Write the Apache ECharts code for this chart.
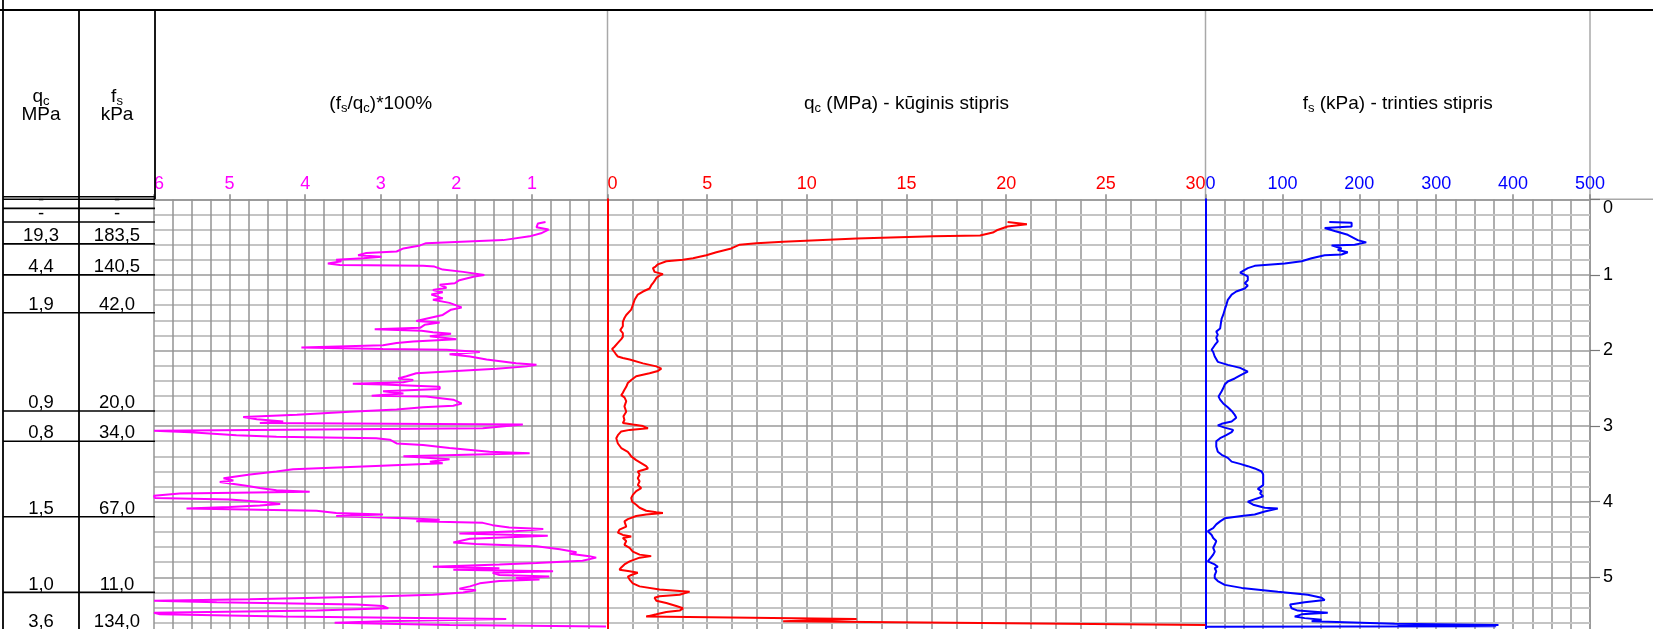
<!DOCTYPE html>
<html><head><meta charset="utf-8">
<script src="https://cdn.jsdelivr.net/npm/echarts@6/dist/echarts.min.js"></script>
<style>html,body{margin:0;padding:0;background:#fff}#c{width:1653px;height:629px}</style>
</head><body><div id="c"></div>
<script>
// ---------- DATA ----------
const depthTicks = [0, 1, 2, 3, 4, 5];
const ratioTicks = [0, 1, 2, 3, 4, 5, 6];
const qcTicks = [0, 5, 10, 15, 20, 25, 30];
const fsTicks = [0, 100, 200, 300, 400, 500];

// (fs/qc)*100% : [depth m, value %]
const ratioCurve = [
[0.30,0.82],[0.32,0.92],[0.37,0.94],[0.40,0.78],[0.45,0.88],[0.49,1.03],[0.54,1.38],[0.58,2.40],[0.61,2.48],[0.65,2.70],
[0.69,2.79],[0.71,3.19],[0.74,3.30],[0.76,2.99],[0.78,3.23],[0.80,3.59],[0.82,3.52],[0.85,3.70],[0.87,3.54],[0.88,2.44],
[0.89,2.29],[0.93,2.18],[0.96,1.91],[1.00,1.63],[1.02,1.76],[1.07,1.96],[1.11,2.02],[1.13,2.22],[1.17,2.13],[1.20,2.31],
[1.23,2.18],[1.26,2.33],[1.31,2.18],[1.33,2.31],[1.37,2.09],[1.43,1.93],[1.46,2.07],[1.53,2.18],[1.58,2.40],[1.61,2.53],
[1.63,2.22],[1.66,2.42],[1.70,2.48],[1.72,3.08],[1.74,2.46],[1.76,2.31],[1.78,2.07],[1.81,2.35],[1.85,2.00],[1.88,2.57],
[1.90,2.79],[1.93,2.97],[1.96,4.05],[1.98,2.97],[1.99,2.13],[2.02,1.69],[2.05,2.09],[2.08,1.82],[2.12,1.60],[2.17,1.21],
[2.19,0.94],[2.21,1.07],[2.24,1.47],[2.30,2.53],[2.34,2.66],[2.37,2.77],[2.39,2.57],[2.42,2.70],[2.44,3.37],[2.45,2.97],
[2.48,2.22],[2.51,2.22],[2.54,2.97],[2.57,2.70],[2.60,3.12],[2.61,2.40],[2.65,2.04],[2.70,1.93],[2.73,2.04],[2.75,2.44],
[2.78,2.79],[2.81,3.41],[2.85,4.11],[2.88,4.82],[2.91,4.64],[2.94,4.29],[2.96,4.60],[2.98,1.12],[3.03,1.65],[3.06,6.00],
[3.08,5.52],[3.12,4.91],[3.14,4.38],[3.16,3.06],[3.18,2.88],[3.23,2.79],[3.25,2.44],[3.29,2.09],[3.34,1.56],[3.36,1.03],
[3.40,2.70],[3.44,2.09],[3.47,2.35],[3.49,2.18],[3.53,3.15],[3.57,4.16],[3.60,4.38],[3.64,4.73],[3.69,5.08],[3.72,4.95],
[3.74,5.13],[3.79,4.78],[3.82,4.60],[3.85,4.38],[3.87,3.94],[3.89,5.66],[3.92,6.00],[3.95,5.99],[3.97,5.00],[4.01,4.47],
[4.03,4.33],[4.05,4.60],[4.07,5.00],[4.09,5.57],[4.12,3.85],[4.15,3.59],[4.17,2.97],[4.19,3.59],[4.22,2.66],[4.24,2.22],
[4.26,2.53],[4.28,1.65],[4.31,1.52],[4.34,1.30],[4.36,0.85],[4.39,1.21],[4.42,1.96],[4.45,0.79],[4.49,1.82],[4.54,2.04],
[4.56,1.74],[4.59,0.94],[4.63,0.63],[4.67,0.41],[4.69,0.50],[4.72,0.24],[4.74,0.15],[4.78,0.33],[4.81,0.94],[4.83,1.43],
[4.86,2.31],[4.88,1.43],[4.90,2.04],[4.92,0.72],[4.94,1.52],[4.97,1.43],[4.99,0.77],[5.01,1.21],[5.03,0.90],[5.05,1.43],
[5.08,1.69],[5.12,1.82],[5.15,1.96],[5.17,1.74],[5.20,1.91],[5.23,2.31],[5.25,2.97],[5.29,4.73],[5.31,6.00],[5.33,5.17],
[5.36,3.32],[5.38,2.97],[5.41,2.90],[5.44,3.85],[5.47,6.00],[5.49,5.92],[5.52,4.29],[5.55,1.34],[5.58,2.97],[5.60,3.61],
[5.63,2.09],[5.65,0.02]
];

// qc (MPa) : [depth m, value]
const qcCurve = [
[0.30,20.07],[0.33,21.04],[0.36,20.07],[0.41,19.53],[0.44,19.33],[0.46,19.28],[0.48,18.69],[0.49,16.35],[0.52,12.50],[0.56,8.81],
[0.58,7.47],[0.60,6.63],[0.65,6.21],[0.67,6.13],[0.70,5.46],[0.74,4.96],[0.76,4.62],[0.78,4.29],[0.80,3.79],[0.82,2.95],
[0.86,2.53],[0.89,2.41],[0.91,2.28],[0.96,2.36],[0.99,2.78],[1.01,2.61],[1.04,2.45],[1.08,2.36],[1.11,2.28],[1.14,2.19],
[1.18,2.11],[1.22,1.78],[1.26,1.52],[1.33,1.36],[1.40,1.27],[1.46,1.19],[1.53,0.94],[1.57,0.85],[1.62,0.77],[1.68,0.77],
[1.73,0.64],[1.77,0.77],[1.82,0.77],[1.85,0.69],[1.90,0.52],[1.95,0.35],[1.98,0.23],[2.00,0.30],[2.04,0.40],[2.08,0.52],
[2.10,0.77],[2.12,1.11],[2.17,1.78],[2.21,2.45],[2.24,2.70],[2.27,2.53],[2.30,2.11],[2.34,1.44],[2.39,1.19],[2.43,1.02],
[2.48,0.94],[2.52,0.85],[2.56,0.77],[2.59,0.69],[2.62,0.85],[2.67,0.94],[2.74,0.85],[2.81,0.94],[2.87,0.80],[2.92,0.85],
[2.96,0.77],[2.98,1.27],[3.00,1.78],[3.03,2.03],[3.05,1.11],[3.07,0.69],[3.12,0.52],[3.16,0.44],[3.23,0.52],[3.29,0.69],
[3.34,1.02],[3.37,1.11],[3.40,1.19],[3.45,1.44],[3.49,1.69],[3.53,1.94],[3.56,2.03],[3.60,1.52],[3.64,1.61],[3.69,1.52],
[3.73,1.61],[3.78,1.52],[3.82,1.69],[3.86,1.44],[3.91,1.27],[3.95,1.19],[4.00,1.24],[4.04,1.44],[4.08,1.61],[4.12,1.94],
[4.14,2.45],[4.15,2.78],[4.17,1.94],[4.19,1.44],[4.23,1.02],[4.26,0.85],[4.28,0.94],[4.33,0.94],[4.37,0.60],[4.41,0.52],
[4.44,0.77],[4.46,1.19],[4.48,0.77],[4.52,0.94],[4.57,0.85],[4.61,1.11],[4.66,1.27],[4.70,1.61],[4.72,2.19],[4.74,1.61],
[4.79,1.11],[4.83,0.85],[4.87,0.69],[4.90,0.60],[4.92,1.11],[4.94,1.52],[4.97,1.19],[4.99,1.02],[5.03,1.11],[5.08,1.27],
[5.12,1.61],[5.16,2.61],[5.19,4.12],[5.23,3.62],[5.25,2.61],[5.27,2.36],[5.31,2.45],[5.34,2.95],[5.38,3.45],[5.41,3.79],
[5.44,3.62],[5.46,2.95],[5.49,2.45],[5.52,1.94],[5.55,12.50],[5.58,8.81],[5.63,30.0]
];

// fs (kPa) : [depth m, value]
const fsCurve = [
[0.30,161],[0.31,190],[0.36,190],[0.38,155],[0.42,168],[0.47,185],[0.54,198],[0.57,209],[0.60,194],[0.61,164],
[0.65,177],[0.67,172],[0.70,185],[0.73,177],[0.74,155],[0.78,138],[0.82,125],[0.85,103],[0.88,64],[0.91,55],
[0.97,45],[0.99,47],[1.02,55],[1.07,55],[1.11,51],[1.14,55],[1.18,51],[1.22,40],[1.26,34],[1.33,29],
[1.40,27],[1.46,25],[1.53,23],[1.58,21],[1.64,20],[1.71,19],[1.75,14],[1.79,16],[1.83,14],[1.88,16],
[1.93,12],[1.99,8],[2.02,10],[2.08,12],[2.15,16],[2.19,29],[2.23,45],[2.28,55],[2.32,47],[2.37,38],
[2.41,29],[2.45,25],[2.50,23],[2.54,21],[2.61,17],[2.65,19],[2.70,23],[2.75,29],[2.80,34],[2.85,38],
[2.89,40],[2.94,34],[2.97,21],[2.99,16],[3.02,25],[3.05,36],[3.08,34],[3.12,27],[3.16,19],[3.20,14],
[3.27,14],[3.34,16],[3.38,21],[3.42,29],[3.47,34],[3.50,45],[3.53,55],[3.56,64],[3.60,73],[3.64,75],
[3.69,75],[3.73,75],[3.78,75],[3.83,68],[3.86,73],[3.89,71],[3.93,75],[3.96,66],[4.00,55],[4.04,62],
[4.08,77],[4.09,94],[4.13,77],[4.17,64],[4.19,47],[4.22,25],[4.26,19],[4.30,14],[4.35,10],[4.39,3],
[4.44,8],[4.48,10],[4.52,14],[4.57,12],[4.61,10],[4.66,12],[4.70,10],[4.74,7],[4.79,3],[4.83,12],
[4.86,16],[4.88,12],[4.92,14],[4.97,12],[5.01,12],[5.05,16],[5.10,25],[5.14,47],[5.19,94],[5.23,133],
[5.27,151],[5.30,155],[5.33,129],[5.36,110],[5.41,112],[5.44,120],[5.47,159],[5.49,125],[5.52,116],[5.54,129],
[5.56,151],[5.58,138],[5.615,246],[5.632,381],[5.640,250],[5.648,378],[5.655,0]
];

// layer table
const layerBottom = [0.12, 0.30, 0.59, 1.00, 1.50, 2.80, 3.20, 4.20, 5.20, 5.70];
const layerQc = ['-', '-', '19,3', '4,4', '1,9', '0,9', '0,8', '1,5', '1,0', '3,6'];
const layerFs = ['-', '-', '183,5', '140,5', '42,0', '20,0', '34,0', '67,0', '11,0', '134,0'];

// ---------- CHART ----------
const FONT = '"Liberation Sans", Arial, Helvetica, sans-serif';
const MAGENTA = '#ff00ff', RED = '#ff0000', BLUE = '#0000ff';
const VCOL = '#949494', HMIN = '#c4c4c4', HMAJ = '#9a9a9a';
const GTOP = 199.3, GH = 75.6 * 6;

const chart = echarts.init(document.getElementById('c'), null, {renderer: 'canvas'});

function xAxisCfg(grid, ticks, color, extra) {
  return Object.assign({
    gridIndex: grid, type: 'value', position: 'top',
    min: ticks[0], max: ticks[ticks.length - 1], interval: ticks[1] - ticks[0],
    axisLine: {show: true, lineStyle: {color: VCOL, width: 1.5}},
    axisTick: {show: true, length: 5, lineStyle: {color: '#888', width: 1.5}},
    splitLine: {show: true, lineStyle: {color: VCOL, width: 1.5}},
    minorTick: {show: false, splitNumber: 4},
    minorSplitLine: {show: true, lineStyle: {color: VCOL, width: 1.5}},
    z: 1
  }, extra || {});
}
function yAxisCfg(grid, lineColor) {
  return {
    gridIndex: grid, type: 'value', inverse: true,
    min: 0, max: 6, interval: 1,
    axisLine: {show: !!lineColor, onZero: false, lineStyle: {color: lineColor || VCOL, width: 2}},
    axisTick: {show: false}, axisLabel: {show: false},
    splitLine: {show: true, lineStyle: {color: HMAJ, width: 1.5}},
    minorTick: {show: false, splitNumber: 5},
    minorSplitLine: {show: true, lineStyle: {color: HMIN, width: 2}},
    z: lineColor ? 4 : 0
  };
}
function gridCfg(left, width) {
  return {left, top: GTOP, width, height: GH, containLabel: false, outerBoundsMode: 'none'};
}

const option = {
  animation: false,
  backgroundColor: '#ffffff',
  grid: [gridCfg(154, 453.5), gridCfg(607.5, 598), gridCfg(1205.5, 384.5)],
  xAxis: [
    xAxisCfg(0, ratioTicks, MAGENTA, {inverse: true, axisLabel: {color: MAGENTA, fontSize: 18, fontFamily: FONT, margin: 6, showMinLabel: false, alignMaxLabel: 'left'}}),
    xAxisCfg(1, qcTicks, RED, {axisLabel: {color: RED, fontSize: 18, fontFamily: FONT, margin: 6, alignMinLabel: 'left', alignMaxLabel: 'right'}}),
    xAxisCfg(2, fsTicks, BLUE, {axisLabel: {color: BLUE, fontSize: 18, fontFamily: FONT, margin: 6, alignMinLabel: 'left'}})
  ],
  yAxis: [
    yAxisCfg(0, null),
    yAxisCfg(1, RED),
    yAxisCfg(2, BLUE),
    {
      gridIndex: 2, type: 'value', inverse: true, position: 'right',
      min: 0, max: 6, interval: depthTicks[1] - depthTicks[0],
      axisLine: {show: true, onZero: false, lineStyle: {color: VCOL, width: 1.5}},
      axisTick: {show: true, length: 10, lineStyle: {color: '#777', width: 1.2}},
      axisLabel: {show: true, color: '#000', fontSize: 18, fontFamily: FONT, margin: 13,
                  verticalAlignMinLabel: 'top',
                  formatter: v => depthTicks.indexOf(v) >= 0 ? String(v) : ''},
      splitLine: {show: false}, z: 3
    }
  ],
  series: [
    {type: 'line', xAxisIndex: 0, yAxisIndex: 0, data: ratioCurve.map(p => [p[1], p[0]]),
     showSymbol: false, symbol: 'none', clip: true, lineStyle: {color: MAGENTA, width: 2}, itemStyle: {color: MAGENTA}, z: 5},
    {type: 'line', xAxisIndex: 1, yAxisIndex: 1, data: qcCurve.map(p => [p[1], p[0]]),
     showSymbol: false, symbol: 'none', clip: true, lineStyle: {color: RED, width: 2}, itemStyle: {color: RED}, z: 5},
    {type: 'line', xAxisIndex: 2, yAxisIndex: 2, data: fsCurve.map(p => [p[1], p[0]]),
     showSymbol: false, symbol: 'none', clip: true, lineStyle: {color: BLUE, width: 2}, itemStyle: {color: BLUE}, z: 5}
  ]
};
chart.setOption(option);

// ---------- FRAME, HEADERS AND LAYER TABLE ----------
const yOf = d => chart.convertToPixel({yAxisIndex: 0}, d);
const xRatio = v => chart.convertToPixel({xAxisIndex: 0}, v);
const xQc = v => chart.convertToPixel({xAxisIndex: 1}, v);
const xFs = v => chart.convertToPixel({xAxisIndex: 2}, v);

const W = 1653, H = 629, TOPLINE = 10;
const COL = [3, 79, 155];
const y0 = yOf(0);
const g = [];
function line(x1, y1, x2, y2, color, w, z) {
  g.push({type: 'line', shape: {x1, y1, x2, y2}, style: {stroke: color, lineWidth: w}, z: z || 10, silent: true});
}
function subText(x, y, parts, color, size, z) {
  const sl = Math.round(size * 0.72);
  g.push({type: 'text', x, y, z: z || 10, silent: true, style: {
    text: parts, align: 'center', verticalAlign: 'middle',
    rich: {
      n: {fontSize: size, fontFamily: FONT, color, lineHeight: size + 4},
      s: {fontSize: Math.round(size * 0.68), fontFamily: FONT, color, lineHeight: sl, padding: [size + 4 - sl, 0, 0, 0]}
    }
  }});
}

// top frame
line(0, TOPLINE, W, TOPLINE, '#000', 2);
line(COL[0], 0, COL[0], H, '#000', 1.8);
line(COL[1], TOPLINE, COL[1], H, '#000', 1.8);
line(COL[2], TOPLINE, COL[2], y0, '#000', 1.8);
// gray separators in header
[xQc(0), xFs(0), xFs(500)].forEach(x => line(x, TOPLINE, x, y0, '#a8a8a8', 1.5, 1));
line(xFs(500), y0, W, y0, '#a8a8a8', 1.5, 1);

// header table
line(COL[0], y0 - 2.6, COL[2], y0 - 2.6, '#000', 1.6);
line(COL[0], y0, COL[2], y0, '#000', 1.6);

// titles
const titleY = 104;
subText((xRatio(6) + xRatio(0)) / 2, titleY, '{n|(f}{s|s}{n|/q}{s|c}{n|)*100%}', MAGENTA, 19);
subText((xQc(0) + xQc(30)) / 2, titleY, '{n|q}{s|c}{n| (MPa) - kūginis stipris}', RED, 19);
subText((xFs(0) + xFs(500)) / 2, titleY, '{n|f}{s|s}{n| (kPa) - trinties stipris}', BLUE, 19);
subText((COL[0] + COL[1]) / 2, 97, '{n|q}{s|c}', '#000', 19);
subText((COL[0] + COL[1]) / 2, 115, '{n|MPa}', '#000', 19);
subText((COL[1] + COL[2]) / 2, 97, '{n|f}{s|s}', '#000', 19);
subText((COL[1] + COL[2]) / 2, 115, '{n|kPa}', '#000', 19);

// layer rows
layerBottom.forEach((d, i) => {
  const y = yOf(d);
  line(COL[0], y, COL[2], y, '#000', 1.6);
  [[layerQc[i], (COL[0] + COL[1]) / 2], [layerFs[i], (COL[1] + COL[2]) / 2]].forEach(([t, x]) => {
    g.push({type: 'text', x, y: y + 1.5, z: 10, silent: true,
      style: {text: t, fontSize: 18.5, fontFamily: FONT, fill: '#000', align: 'center', verticalAlign: 'bottom'}});
  });
});

chart.setOption({graphic: g});
</script>
</body></html>
